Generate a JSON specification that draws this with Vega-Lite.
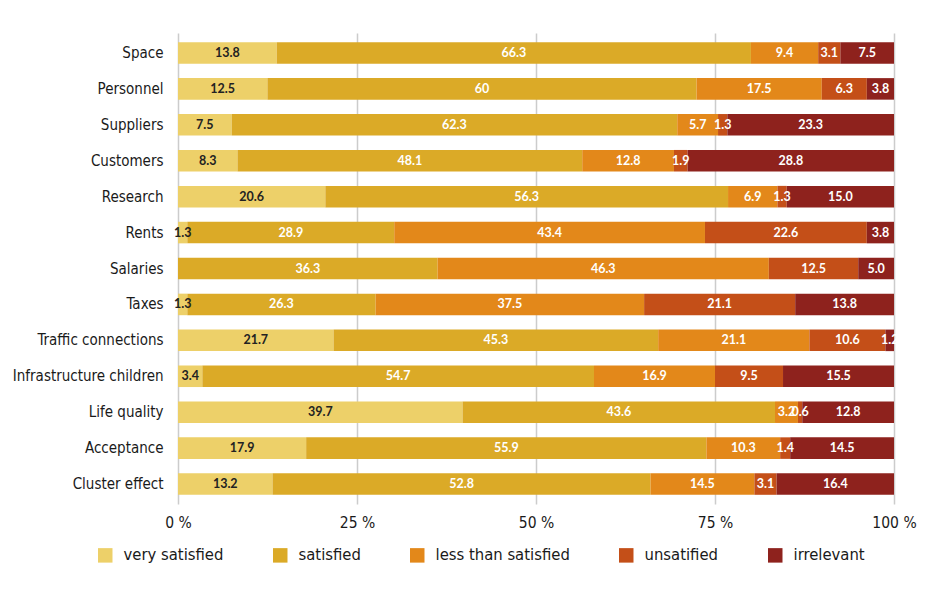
{
  "$schema": "https://vega.github.io/schema/vega-lite/v6.json",
  "width": 716,
  "height": 471,
  "autosize": {"type": "none"},
  "padding": {"left": 178, "top": 33, "right": 36, "bottom": 93},
  "background": "#ffffff",
  "data": {
    "values": [
      {"item": "Space", "cat": "very satisfied", "k": 1, "value": 13.8, "label": "13.8"},
      {"item": "Space", "cat": "satisfied", "k": 2, "value": 66.3, "label": "66.3"},
      {"item": "Space", "cat": "less than satisfied", "k": 3, "value": 9.4, "label": "9.4"},
      {"item": "Space", "cat": "unsatified", "k": 4, "value": 3.1, "label": "3.1"},
      {"item": "Space", "cat": "irrelevant", "k": 5, "value": 7.5, "label": "7.5"},
      {"item": "Personnel", "cat": "very satisfied", "k": 1, "value": 12.5, "label": "12.5"},
      {"item": "Personnel", "cat": "satisfied", "k": 2, "value": 60, "label": "60"},
      {"item": "Personnel", "cat": "less than satisfied", "k": 3, "value": 17.5, "label": "17.5"},
      {"item": "Personnel", "cat": "unsatified", "k": 4, "value": 6.3, "label": "6.3"},
      {"item": "Personnel", "cat": "irrelevant", "k": 5, "value": 3.8, "label": "3.8"},
      {"item": "Suppliers", "cat": "very satisfied", "k": 1, "value": 7.5, "label": "7.5"},
      {"item": "Suppliers", "cat": "satisfied", "k": 2, "value": 62.3, "label": "62.3"},
      {"item": "Suppliers", "cat": "less than satisfied", "k": 3, "value": 5.7, "label": "5.7"},
      {"item": "Suppliers", "cat": "unsatified", "k": 4, "value": 1.3, "label": "1.3"},
      {"item": "Suppliers", "cat": "irrelevant", "k": 5, "value": 23.3, "label": "23.3"},
      {"item": "Customers", "cat": "very satisfied", "k": 1, "value": 8.3, "label": "8.3"},
      {"item": "Customers", "cat": "satisfied", "k": 2, "value": 48.1, "label": "48.1"},
      {"item": "Customers", "cat": "less than satisfied", "k": 3, "value": 12.8, "label": "12.8"},
      {"item": "Customers", "cat": "unsatified", "k": 4, "value": 1.9, "label": "1.9"},
      {"item": "Customers", "cat": "irrelevant", "k": 5, "value": 28.8, "label": "28.8"},
      {"item": "Research", "cat": "very satisfied", "k": 1, "value": 20.6, "label": "20.6"},
      {"item": "Research", "cat": "satisfied", "k": 2, "value": 56.3, "label": "56.3"},
      {"item": "Research", "cat": "less than satisfied", "k": 3, "value": 6.9, "label": "6.9"},
      {"item": "Research", "cat": "unsatified", "k": 4, "value": 1.3, "label": "1.3"},
      {"item": "Research", "cat": "irrelevant", "k": 5, "value": 15.0, "label": "15.0"},
      {"item": "Rents", "cat": "very satisfied", "k": 1, "value": 1.3, "label": "1.3"},
      {"item": "Rents", "cat": "satisfied", "k": 2, "value": 28.9, "label": "28.9"},
      {"item": "Rents", "cat": "less than satisfied", "k": 3, "value": 43.4, "label": "43.4"},
      {"item": "Rents", "cat": "unsatified", "k": 4, "value": 22.6, "label": "22.6"},
      {"item": "Rents", "cat": "irrelevant", "k": 5, "value": 3.8, "label": "3.8"},
      {"item": "Salaries", "cat": "satisfied", "k": 2, "value": 36.3, "label": "36.3"},
      {"item": "Salaries", "cat": "less than satisfied", "k": 3, "value": 46.3, "label": "46.3"},
      {"item": "Salaries", "cat": "unsatified", "k": 4, "value": 12.5, "label": "12.5"},
      {"item": "Salaries", "cat": "irrelevant", "k": 5, "value": 5.0, "label": "5.0"},
      {"item": "Taxes", "cat": "very satisfied", "k": 1, "value": 1.3, "label": "1.3"},
      {"item": "Taxes", "cat": "satisfied", "k": 2, "value": 26.3, "label": "26.3"},
      {"item": "Taxes", "cat": "less than satisfied", "k": 3, "value": 37.5, "label": "37.5"},
      {"item": "Taxes", "cat": "unsatified", "k": 4, "value": 21.1, "label": "21.1"},
      {"item": "Taxes", "cat": "irrelevant", "k": 5, "value": 13.8, "label": "13.8"},
      {"item": "Traffic connections", "cat": "very satisfied", "k": 1, "value": 21.7, "label": "21.7"},
      {"item": "Traffic connections", "cat": "satisfied", "k": 2, "value": 45.3, "label": "45.3"},
      {"item": "Traffic connections", "cat": "less than satisfied", "k": 3, "value": 21.1, "label": "21.1"},
      {"item": "Traffic connections", "cat": "unsatified", "k": 4, "value": 10.6, "label": "10.6"},
      {"item": "Traffic connections", "cat": "irrelevant", "k": 5, "value": 1.2, "label": "1.2"},
      {"item": "Infrastructure children", "cat": "very satisfied", "k": 1, "value": 3.4, "label": "3.4"},
      {"item": "Infrastructure children", "cat": "satisfied", "k": 2, "value": 54.7, "label": "54.7"},
      {"item": "Infrastructure children", "cat": "less than satisfied", "k": 3, "value": 16.9, "label": "16.9"},
      {"item": "Infrastructure children", "cat": "unsatified", "k": 4, "value": 9.5, "label": "9.5"},
      {"item": "Infrastructure children", "cat": "irrelevant", "k": 5, "value": 15.5, "label": "15.5"},
      {"item": "Life quality", "cat": "very satisfied", "k": 1, "value": 39.7, "label": "39.7"},
      {"item": "Life quality", "cat": "satisfied", "k": 2, "value": 43.6, "label": "43.6"},
      {"item": "Life quality", "cat": "less than satisfied", "k": 3, "value": 3.2, "label": "3.2"},
      {"item": "Life quality", "cat": "unsatified", "k": 4, "value": 0.6, "label": "0.6"},
      {"item": "Life quality", "cat": "irrelevant", "k": 5, "value": 12.8, "label": "12.8"},
      {"item": "Acceptance", "cat": "very satisfied", "k": 1, "value": 17.9, "label": "17.9"},
      {"item": "Acceptance", "cat": "satisfied", "k": 2, "value": 55.9, "label": "55.9"},
      {"item": "Acceptance", "cat": "less than satisfied", "k": 3, "value": 10.3, "label": "10.3"},
      {"item": "Acceptance", "cat": "unsatified", "k": 4, "value": 1.4, "label": "1.4"},
      {"item": "Acceptance", "cat": "irrelevant", "k": 5, "value": 14.5, "label": "14.5"},
      {"item": "Cluster effect", "cat": "very satisfied", "k": 1, "value": 13.2, "label": "13.2"},
      {"item": "Cluster effect", "cat": "satisfied", "k": 2, "value": 52.8, "label": "52.8"},
      {"item": "Cluster effect", "cat": "less than satisfied", "k": 3, "value": 14.5, "label": "14.5"},
      {"item": "Cluster effect", "cat": "unsatified", "k": 4, "value": 3.1, "label": "3.1"},
      {"item": "Cluster effect", "cat": "irrelevant", "k": 5, "value": 16.4, "label": "16.4"}
    ]
  },
  "transform": [
    {"stack": "value", "groupby": ["item"], "sort": [{"field": "k", "order": "ascending"}], "offset": "normalize", "as": ["v0", "v1"]}
  ],
  "encoding": {
    "y": {
      "field": "item",
      "type": "nominal",
      "sort": null,
      "scale": {"paddingInner": 0.4, "paddingOuter": 0.256},
      "axis": {
        "title": null,
        "ticks": false,
        "domain": false,
        "labelPadding": 15,
        "labelFont": "DejaVu Sans Condensed, sans-serif",
        "labelFontSize": 15,
        "labelFontWeight": "normal",
        "labelColor": "#1a1a1a"
      }
    }
  },
  "layer": [
    {
      "mark": {"type": "bar"},
      "encoding": {
        "x": {
          "field": "v0",
          "type": "quantitative",
          "scale": {"domain": [0, 1], "nice": false},
          "axis": {
            "title": null,
            "values": [0, 0.25, 0.5, 0.75, 1],
            "labelExpr": "round(datum.value * 100) + ' %'",
            "grid": true,
            "gridColor": "#cccccc",
            "gridWidth": 1.5,
            "ticks": false,
            "domain": false,
            "labelFlush": false,
            "labelPadding": 11,
            "labelFont": "DejaVu Sans Condensed, sans-serif",
            "labelFontSize": 15.5,
            "labelColor": "#1a1a1a"
          }
        },
        "x2": {"field": "v1"},
        "color": {
          "field": "cat",
          "type": "nominal",
          "scale": {
            "domain": ["very satisfied", "satisfied", "less than satisfied", "unsatified", "irrelevant"],
            "range": ["#EDD069", "#DBAA27", "#E3881A", "#C44F18", "#8E221D"]
          },
          "legend": {
            "title": null,
            "orient": "none",
            "direction": "horizontal",
            "legendX": -81,
            "legendY": 514,
            "symbolType": "square",
            "symbolSize": 210,
            "symbolStrokeWidth": 0,
            "symbolOpacity": 1,
            "labelOffset": 10,
            "columnPadding": 48,
            "labelFont": "DejaVu Sans Condensed, sans-serif",
            "labelFontSize": 16.5,
            "labelColor": "#1a1a1a",
            "labelLimit": 300
          }
        }
      }
    },
    {
      "transform": [{"calculate": "(datum.v0 + datum.v1) / 2", "as": "mid"}],
      "mark": {"type": "text", "font": "Lato, sans-serif", "fontSize": 12.5, "fontWeight": "bold", "align": "center", "baseline": "middle"},
      "encoding": {
        "x": {"field": "mid", "type": "quantitative"},
        "text": {"field": "label"},
        "color": {
          "condition": {"test": "datum.cat === 'very satisfied'", "value": "#222222"},
          "value": "#ffffff"
        }
      }
    }
  ],
  "config": {
    "view": {"stroke": null}
  }
}
